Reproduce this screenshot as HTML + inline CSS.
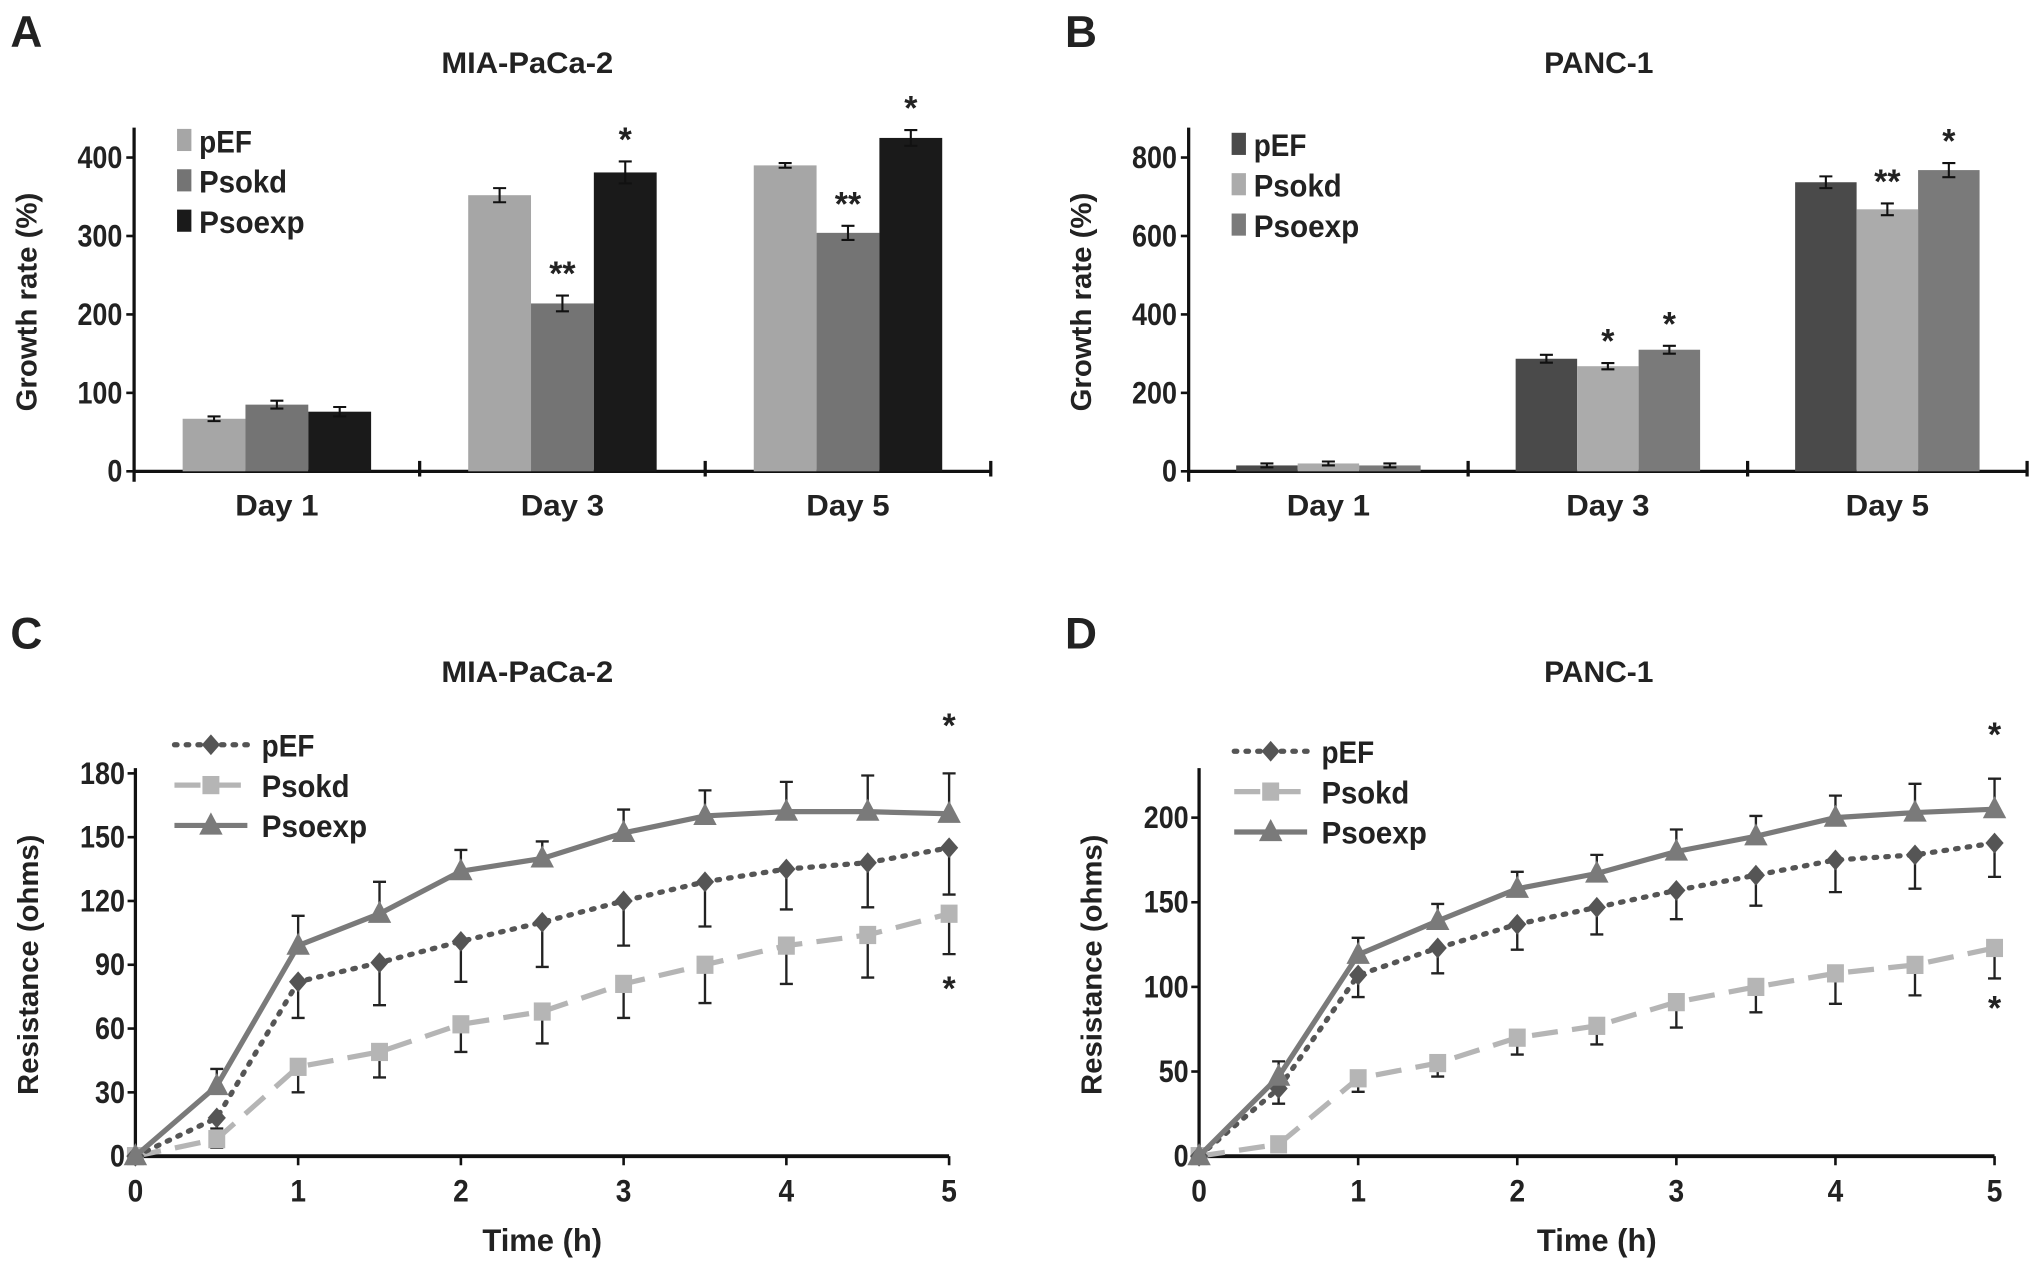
<!DOCTYPE html>
<html><head><meta charset="utf-8"><style>
html,body{margin:0;padding:0;background:#fff}
svg{display:block}
text{font-family:"Liberation Sans",sans-serif;font-weight:bold;fill:#222}
</style></head><body>
<svg id="fig" width="2031" height="1265" viewBox="0 0 1560 971.6" preserveAspectRatio="none" xmlns="http://www.w3.org/2000/svg"></svg>
<script>
// ---- Data ----
const barDays = ["Day 1","Day 3","Day 5"];
const barSeries = ["pEF","Psokd","Psoexp"];
const aPEF = [67,352,390], aPsokd = [85,214,304], aPsoexp = [76,381,425];
const aErrPEF = [3,9,3], aErrPsokd = [5,10,9], aErrPsoexp = [6,14,10];
const aStars = [["","",""],["","**","*"],["","**","*"]];
const aTicks = [0,100,200,300,400];
const bPEF = [15,287,737], bPsokd = [20,268,668], bPsoexp = [15,310,768];
const bErrPEF = [5,10,15], bErrPsokd = [5,8,15], bErrPsoexp = [5,10,18];
const bStars = [["","",""],["","*","*"],["","**","*"]];
const bTicks = [0,200,400,600,800];
const times = [0,0.5,1,1.5,2,2.5,3,3.5,4,4.5,5];
const timeTicks = [0,1,2,3,4,5];
const cPEF = [0,18,82,91,101,110,120,129,135,138,145];
const cPEFlo = [0,13,65,71,82,89,99,108,116,117,123];
const cPsokd = [0,8,42,49,62,68,81,90,99,104,114];
const cPsokdLo = [0,4,30,37,49,53,65,72,81,84,95];
const cPsoexp = [0,33,99,114,134,140,152,160,162,162,161];
const cPsoexpHi = [0,41,113,129,144,148,163,172,176,179,180];
const cTicks = [0,30,60,90,120,150,180];
const dPEF = [0,40,107,123,137,147,157,166,175,178,185];
const dPEFlo = [0,31,94,108,122,131,140,148,156,158,165];
const dPsokd = [0,7,46,55,70,77,91,100,108,113,123];
const dPsokdLo = [0,3,38,47,60,66,76,85,90,95,105];
const dPsoexp = [0,47,119,139,158,167,180,189,200,203,205];
const dPsoexpHi = [0,56,129,149,168,178,193,201,213,220,223];
const dTicks = [0,50,100,150,200];

const svg = document.getElementById('fig');
const NS = "http://www.w3.org/2000/svg";
function el(tag, attrs, parent){
  const e = document.createElementNS(NS, tag);
  for (const k in attrs) e.setAttribute(k, attrs[k]);
  (parent||svg).appendChild(e); return e;
}
function txt(s, x, y, size, anchor, parent, extra){
  const t = el('text', Object.assign({x:x, y:y, 'font-size':size, 'text-anchor':anchor||'middle'}, extra||{}), parent);
  t.textContent = s; return t;
}

function barPanel(o){
  const g = el('g', {});
  
  
  const y = v => o.y0 - (v/o.tickStep)*o.tickPx;
  const lbl = txt(o.letter, o.letterX, 36, 34, 'start', g);
  
  
  const ti = txt(o.title, o.titleX, 56, 23, 'middle', g, {textLength:o.titleLen, lengthAdjust:'spacingAndGlyphs'});
  
  
  el('line', {x1:o.x0, y1:o.yTop, x2:o.x0, y2:o.y0+8, stroke:'#111','stroke-width':2.5}, g);
  el('line', {x1:o.x0, y1:o.y0, x2:o.x1, y2:o.y0, stroke:'#111','stroke-width':2.5}, g);
  o.ticks.forEach(t => {
    const yy = y(t);
    el('line', {x1:o.x0-6, y1:yy, x2:o.x0, y2:yy, stroke:'#111','stroke-width':2}, g);
    const tl = txt(String(t), o.x0-9, yy+8, 24, 'end', g, {textLength:String(t).length*11.5, lengthAdjust:'spacingAndGlyphs'});
    
    
  });
  const yl = txt(o.ylabel, 0, 0, 22, 'middle', g, {transform:`translate(${o.x0-75},${(o.yTop+o.y0)/2+2}) rotate(-90)`, textLength:168, lengthAdjust:'spacingAndGlyphs'});
  
  
  const gw = (o.x1-o.x0)/3, bw = gw*0.22, pad = (gw-3*bw)/2;
  for (let i=1;i<=3;i++){
    el('line', {x1:o.x0+gw*i, y1:o.y0-8, x2:o.x0+gw*i, y2:o.y0+4, stroke:'#111','stroke-width':2.5}, g);
  }
  barDays.forEach((d,i) => {
    const gx = o.x0 + gw*i;
    o.vals.forEach((arr,s) => {
      const bx = gx + pad + bw*s, v = arr[i], yy = y(v);
      const r = el('rect', {x:bx, y:yy, width:bw, height:o.y0-yy, fill:o.colors[s]}, g);
      
      
      const e = o.errs[s][i], cx = bx + bw/2;
      el('path', {d:`M${cx},${y(v+e)}V${y(v-e)}M${cx-5},${y(v+e)}H${cx+5}M${cx-5},${y(v-e)}H${cx+5}`, stroke:'#111','stroke-width':1.6, fill:'none'}, g);
      const st = o.stars[i][s];
      if (st){
        const sa = txt(st, cx, y(v+e)-8, 26, 'middle', g);
        
        
      }
    });
    const xl = txt(d, gx+gw/2, 396, 23, 'middle', g, {textLength:64, lengthAdjust:'spacingAndGlyphs'});
    
    
  });
  barSeries.forEach((s,i) => {
    const ly = o.legY + i*31;
    const sw = el('rect', {x:o.legX, y:ly-9, width:11, height:17, fill:o.colors[i]}, g);
    
    
    const lt = txt(s, o.legX+17, ly+9, 24, 'start', g, {textLength:s.length*13.5, lengthAdjust:'spacingAndGlyphs'});
    
    
  });
}

barPanel({name:'panel-a-bar-chart', letter:'A', letterX:8, title:'MIA-PaCa-2', titleX:405, titleLen:132,
  x0:103, x1:761, y0:362, yTop:98, tickStep:100, tickPx:60.25, ticks:aTicks, ylabel:'Growth rate (%)',
  vals:[aPEF,aPsokd,aPsoexp], errs:[aErrPEF,aErrPsokd,aErrPsoexp], stars:aStars,
  colors:['#a6a6a6','#747474','#1a1a1a'], legX:136, legY:108});
barPanel({name:'panel-b-bar-chart', letter:'B', letterX:818, title:'PANC-1', titleX:1228, titleLen:84,
  x0:913, x1:1557, y0:362, yTop:98, tickStep:200, tickPx:60.25, ticks:bTicks, ylabel:'Growth rate (%)',
  vals:[bPEF,bPsokd,bPsoexp], errs:[bErrPEF,bErrPsokd,bErrPsoexp], stars:bStars,
  colors:['#4a4a4a','#ababab','#7a7a7a'], legX:946, legY:111});

function marker(type, x, y, g, color){
  if (type==='diamond') return el('path', {d:`M${x},${y-8}L${x+7},${y}L${x},${y+8}L${x-7},${y}Z`, fill:color}, g);
  if (type==='square') return el('rect', {x:x-6.5, y:y-7, width:13, height:14, fill:color}, g);
  return el('path', {d:`M${x},${y-10}L${x+9},${y+7}L${x-9},${y+7}Z`, fill:color}, g);
}

function linePanel(o){
  const g = el('g', {});
  
  
  const X = t => o.x0 + t*o.hPx;
  const Y = v => o.y0 - (v/o.tickStep)*o.tickPx;
  const lbl = txt(o.letter, o.letterX, 498, 34, 'start', g);
  
  
  const ti = txt(o.title, o.titleX, o.titleY, 23, 'middle', g, {textLength:o.titleLen, lengthAdjust:'spacingAndGlyphs'});
  
  
  el('line', {x1:o.x0, y1:o.yTop, x2:o.x0, y2:o.y0+6, stroke:'#111','stroke-width':2.5}, g);
  el('line', {x1:o.x0, y1:o.y0, x2:X(5), y2:o.y0, stroke:'#111','stroke-width':3}, g);
  o.ticks.forEach(t => {
    const yy = Y(t);
    el('line', {x1:o.x0-6, y1:yy, x2:o.x0, y2:yy, stroke:'#111','stroke-width':2}, g);
    const tl = txt(String(t), o.x0-8, yy+8, 24, 'end', g, {textLength:String(t).length*11.5, lengthAdjust:'spacingAndGlyphs'});
    
    
  });
  timeTicks.forEach(t => {
    el('line', {x1:X(t), y1:o.y0, x2:X(t), y2:o.y0+7, stroke:'#111','stroke-width':2}, g);
    const tl = txt(String(t), X(t), o.y0+35, 24, 'middle', g, {textLength:12, lengthAdjust:'spacingAndGlyphs'});
    
    
  });
  const xt = txt('Time (h)', (o.x0+X(5))/2, 961, 24, 'middle', g, {textLength:92, lengthAdjust:'spacingAndGlyphs'});
  
  
  const yl = txt('Resistance (ohms)', 0, 0, 22, 'middle', g, {transform:`translate(${o.x0-75},${(o.yTop+o.y0)/2+2}) rotate(-90)`, textLength:200, lengthAdjust:'spacingAndGlyphs'});
  
  
  const series = [
    {name:'psokd', vals:o.psokd, err:o.psokdLo, color:'#b5b5b5', dash:'20,11', w:4, m:'square'},
    {name:'pef', vals:o.pef, err:o.pefLo, color:'#555', dash:'2,7', w:4, m:'diamond'},
    {name:'psoexp', vals:o.psoexp, err:o.psoexpHi, color:'#7a7a7a', dash:'', w:4, m:'triangle'}
  ];
  series.forEach(s => {
    times.forEach((t,i) => {
      if (i===0) return;
      const x = X(t), e = s.err[i];
      el('path', {d:`M${x},${Y(s.vals[i])}V${Y(e)}M${x-5},${Y(e)}H${x+5}`, stroke:'#222','stroke-width':1.8, fill:'none'}, g);
    });
  });
  series.forEach(s => {
    const p = el('polyline', {points:times.map((t,i)=>X(t)+','+Y(s.vals[i])).join(' '), fill:'none', stroke:s.color, 'stroke-width':s.w, 'stroke-dasharray':s.dash, 'stroke-linecap':s.dash==='2,7'?'round':'butt'}, g);
    
    
    times.forEach((t,i) => {
      const m = marker(s.m, X(t), Y(s.vals[i]), g, s.color);
      
      
    });
  });
  const s1 = txt('*', X(5), o.starTop, 26, 'middle', g);
  
  
  const s2 = txt('*', X(5), o.starBot, 26, 'middle', g);
  
  
  const leg = [['pEF','#555','2,7','diamond'],['Psokd','#b5b5b5','20,11','square'],['Psoexp','#7a7a7a','','triangle']];
  leg.forEach((l,i) => {
    const ly = o.legY + i*31;
    el('line', {x1:o.legX, y1:ly, x2:o.legX+56, y2:ly, stroke:l[1], 'stroke-width':4, 'stroke-dasharray':l[2], 'stroke-linecap':l[2]==='2,7'?'round':'butt'}, g);
    marker(l[3], o.legX+28, ly, g, l[1]);
    const lt = txt(l[0], o.legX+67, ly+9, 24, 'start', g, {textLength:l[0].length*13.5, lengthAdjust:'spacingAndGlyphs'});
    
    
  });
}

linePanel({name:'panel-c-line-chart', letter:'C', letterX:8, title:'MIA-PaCa-2', titleX:405, titleY:524, titleLen:132,
  x0:104, hPx:125, y0:888, yTop:590, tickStep:30, tickPx:49, ticks:cTicks,
  pef:cPEF, pefLo:cPEFlo, psokd:cPsokd, psokdLo:cPsokdLo, psoexp:cPsoexp, psoexpHi:cPsoexpHi,
  legX:134, legY:572, starTop:566, starBot:768});
linePanel({name:'panel-d-line-chart', letter:'D', letterX:818, title:'PANC-1', titleX:1228, titleY:524, titleLen:84,
  x0:921, hPx:122.2, y0:888, yTop:590, tickStep:50, tickPx:65, ticks:dTicks,
  pef:dPEF, pefLo:dPEFlo, psokd:dPsokd, psokdLo:dPsokdLo, psoexp:dPsoexp, psoexpHi:dPsoexpHi,
  legX:948, legY:577, starTop:573, starBot:783});
</script>
</body></html>
